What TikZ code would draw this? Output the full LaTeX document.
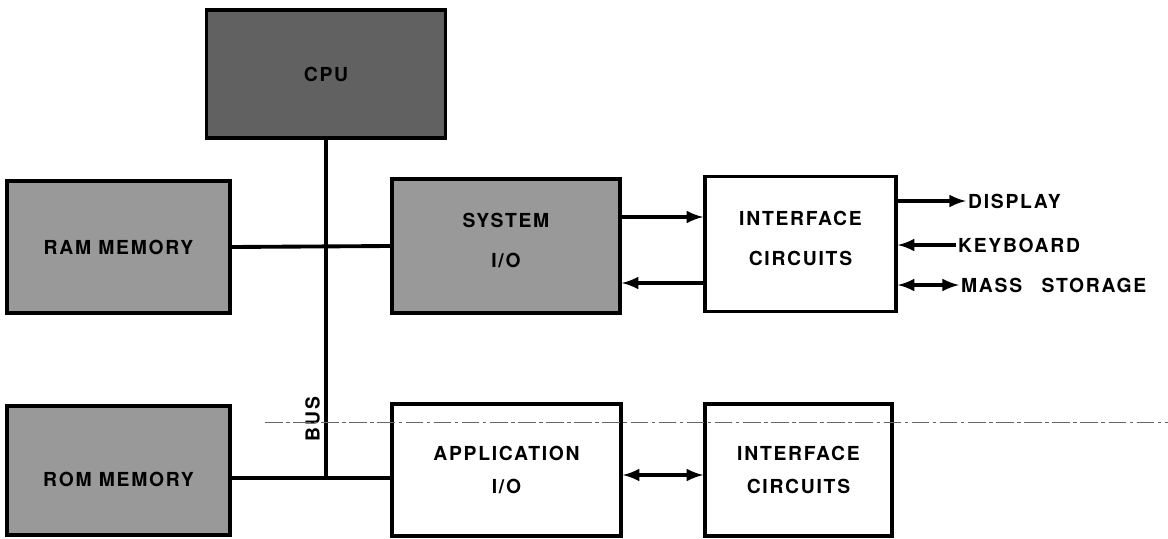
\documentclass[tikz,border=0pt]{standalone}
\usepackage{fontspec}
\setmainfont{TeX Gyre Heros}[LetterSpace=9]
\usetikzlibrary{arrows}

\begin{document}
\begin{tikzpicture}[>=latex,
  blk/.style={draw, line width=2pt, inner sep=0pt, align=center,
    font=\fontsize{11}{18.7}\selectfont\bfseries},
  dark/.style={blk, fill=black!62},
  light/.style={blk, fill=black!40},
  lbl/.style={anchor=west, inner sep=1pt, font=\fontsize{11}{12}\selectfont\bfseries},
  wire/.style={line width=2.2pt}]
\useasboundingbox (0,0) rectangle (23.36,10.76);

\node[dark, minimum width=4.78cm, minimum height=2.56cm] (A1) at (6.52,9.28) {CPU};

\node[light, minimum width=4.46cm, minimum height=2.64cm] (B1) at (2.37,5.82) {RAM MEMORY};
\node[light, minimum width=4.56cm, minimum height=2.68cm] (B2) at (10.12,5.84) {SYSTEM\\[4pt]I/O\\[-12pt]};
\node[blk, minimum width=3.82cm, minimum height=2.7cm] (B3) at (16.01,5.88) {INTERFACE\\[4pt]CIRCUITS\\[-12pt]};

\node[light, minimum width=4.46cm, minimum height=2.58cm] (C1) at (2.37,1.35) {\mbox{}\\ROM MEMORY};
\node[blk, minimum width=4.58cm, minimum height=2.64cm] (C2) at (10.13,1.36) {APPLICATION\\I/O};
\node[blk, minimum width=3.74cm, minimum height=2.64cm] (C3) at (15.97,1.36) {INTERFACE\\CIRCUITS};

\node[lbl] (D1) at (19.32,6.74) {DISPLAY};
\node[lbl] (D2) at (19.12,5.86) {KEYBOARD};
\node[lbl] (D3) at (19.18,5.06) {MASS\quad STORAGE};

\node[font=\fontsize{11}{12}\selectfont\bfseries, rotate=90] (E1) at (6.25,2.38) {BUS};

% bus
\coordinate (J1) at (6.52,1.2);
\draw[wire] (A1.south) -- (J1);
\draw[wire] (B1.east) -- (B2.west);
\draw[wire] (C1.east |- J1) -- (J1) -- (C2.west |- J1);

\coordinate (s1) at ([yshift=0.58cm]B2.east);
\coordinate (s2) at ([yshift=-0.74cm]B2.east);
\coordinate (s3) at ([yshift=-0.1cm]C2.east);

\path[->, wire] (s1) edge [] node[]{} (s1 -| B3.west);
\path[->, wire] (s2 -| B3.west) edge [] node[]{} (s2);
\path[<->, wire] (s3) edge [] node[]{} (s3 -| C3.west);

\path[->, wire] (B3.east |- D1) edge [] node[]{} (D1.west);
\path[->, wire] (D2.west) edge [] node[]{} (B3.east |- D2);
\path[<->, wire] (B3.east |- D3) edge [] node[]{} (D3.west);

% fold mark of the sheet
\draw[black!60, very thin, dash pattern=on 10pt off 2pt on 2pt off 2pt] (5.3,2.32) -- (23.36,2.32);
\end{tikzpicture}
\end{document}
